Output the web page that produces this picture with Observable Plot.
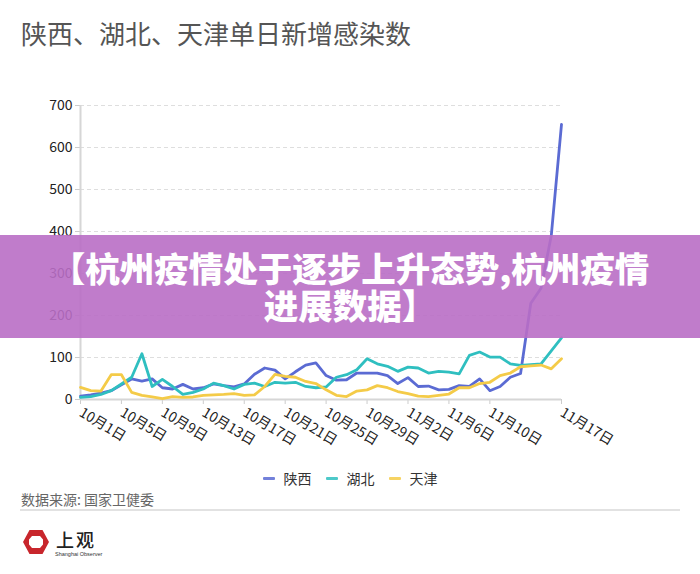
<!DOCTYPE html>
<html><head><meta charset="utf-8">
<script src="https://cdn.jsdelivr.net/npm/d3@7"></script>
<script src="https://cdn.jsdelivr.net/npm/@observablehq/plot@0.6"></script>
<style>
body{margin:0;width:700px;height:574px;background:#fff;position:relative;overflow:hidden;font-family:"Noto Sans CJK SC","Noto Sans",sans-serif;}
#title{position:absolute;left:21px;top:16px;font-size:26px;color:#555;line-height:34px;white-space:nowrap;}
#chart{position:absolute;left:0;top:0;}
#banner{position:absolute;left:0;top:235px;width:700px;height:103px;background:rgba(185,110,197,0.9);color:#fff;font-weight:900;font-size:34.5px;text-align:center;padding-top:14px;box-sizing:border-box;white-space:nowrap;}
#banner div{height:37px;line-height:37px;}
#legend{position:absolute;top:467px;left:0;width:700px;display:flex;justify-content:center;font-size:14px;color:#333;line-height:22px;}
#legend .item{display:flex;align-items:center;margin:0 7px;}
#legend .mk{display:inline-block;width:12px;height:3px;margin-right:9px;border-radius:1px;}
#source{position:absolute;left:21px;top:488px;font-size:14px;color:#666;line-height:22px;}
#sep{position:absolute;left:20px;top:509px;width:660px;height:2px;background:#e2e2e2;}
#logo{position:absolute;left:22px;top:527px;width:30px;height:30px;}
#logoName{position:absolute;left:56px;top:529px;font-size:18px;line-height:20px;font-weight:500;color:#222;letter-spacing:2px;white-space:nowrap;}
#logoSub{position:absolute;left:55px;top:551px;font-size:5.5px;line-height:7px;font-family:"Liberation Sans",sans-serif;color:#333;white-space:nowrap;}
</style>
</head><body>
<div id="title">陕西、湖北、天津单日新增感染数</div>
<div id="chart"></div>
<div id="banner"><div>【杭州疫情处于逐步上升态势,杭州疫情</div><div>进展数据】</div></div>
<div id="legend"></div>
<div id="source">数据来源: 国家卫健委</div>
<div id="sep"></div>
<div id="logo">
<svg width="30" height="30" viewBox="0 0 30 30">
<path fill-rule="evenodd" fill="#c8262c" d="M1 15 L7.5 3 L20.5 3 L27 15 L20.5 27 L7.5 27 Z M10 9 L18 9 L21 12.5 L21 17.5 L18 21 L10 21 L7 17.5 L7 12.5 Z"/>
</svg>
</div>
<div id="logoName">上观</div>
<div id="logoSub">Shanghai Observer</div>
<script>
const series = ["陕西", "湖北", "天津"];
const colors = ["#5b6bd3", "#2fbfc0", "#f4cb48"];
const dates = ["10月1日","10月2日","10月3日","10月4日","10月5日","10月6日","10月7日","10月8日","10月9日","10月10日",
"10月11日","10月12日","10月13日","10月14日","10月15日","10月16日","10月17日","10月18日","10月19日","10月20日",
"10月21日","10月22日","10月23日","10月24日","10月25日","10月26日","10月27日","10月28日","10月29日","10月30日","10月31日",
"11月1日","11月2日","11月3日","11月4日","11月5日","11月6日","11月7日","11月8日","11月9日","11月10日",
"11月11日","11月12日","11月13日","11月14日","11月15日","11月16日","11月17日"];
const shaanxi = [8,11,15,21,35,49,44,49,28,25,36,25,28,37,33,30,37,60,75,70,49,66,82,87,57,46,47,63,63,63,57,38,52,31,32,23,24,33,31,49,21,31,53,62,229,265,390,655];
const hubei = [5,7,12,21,37,53,109,31,48,31,12,17,25,39,33,25,36,39,31,41,39,41,31,28,30,53,59,71,97,85,79,67,77,75,63,67,65,61,105,113,101,101,85,81,83,85,116,147];
const tianjin = [29,21,20,59,59,17,10,6,2,7,5,6,10,11,12,14,10,11,31,60,55,53,43,38,23,10,7,20,23,33,28,19,14,8,7,10,13,28,28,38,41,57,63,78,80,82,73,97];
const tickDates = ["10月1日","10月5日","10月9日","10月13日","10月17日","10月21日","10月25日","10月29日","11月2日","11月6日","11月10日","11月17日"];
const yTicks = [0,100,200,300,400,500,600,700];

const valuesBySeries = [shaanxi, hubei, tianjin];
const rows = [];
series.forEach((s, i) => valuesBySeries[i].forEach((v, j) => rows.push({date: dates[j], value: v, series: s})));

const chart = Plot.plot({
  width: 700,
  height: 460,
  marginTop: 105,
  marginBottom: 61,
  marginLeft: 80,
  marginRight: 139,
  style: {background: "transparent", fontFamily: "'Noto Sans CJK SC', 'Noto Sans', sans-serif", color: "#222"},
  x: {type: "point", domain: dates, padding: 0, round: false},
  y: {domain: [0, 700]},
  color: {domain: series, range: colors},
  marks: [
    Plot.gridY(yTicks, {stroke: "#dedede", strokeOpacity: 1, strokeDasharray: "4,3"}),
    Plot.axisY(yTicks, {tickSize: 5, tickPadding: 3, fontSize: 14, stroke: "#ccc", fill: "#222", label: null}),
    Plot.axisX(tickDates, {tickSize: 5, tickPadding: 7, tickRotate: 31, fontSize: 14, stroke: "#ccc", fill: "#222", label: null}),
    Plot.ruleX([dates[0]], {y1: 0, y2: 700, stroke: "#d6d6d6", strokeWidth: 2}),
    Plot.ruleY([0], {stroke: "#d6d6d6", strokeWidth: 2}),
    Plot.line(rows, {x: "date", y: "value", z: "series", stroke: "series", strokeWidth: 2.8, strokeLinejoin: "round"})
  ]
});
document.getElementById("chart").appendChild(chart);

const legend = document.getElementById("legend");
series.forEach((s, i) => {
  const item = document.createElement("div");
  item.className = "item";
  const mk = document.createElement("span");
  mk.className = "mk";
  mk.style.background = colors[i];
  mk.style.opacity = 0.85;
  item.appendChild(mk);
  item.appendChild(document.createTextNode(s));
  legend.appendChild(item);
});
</script>
</body></html>
